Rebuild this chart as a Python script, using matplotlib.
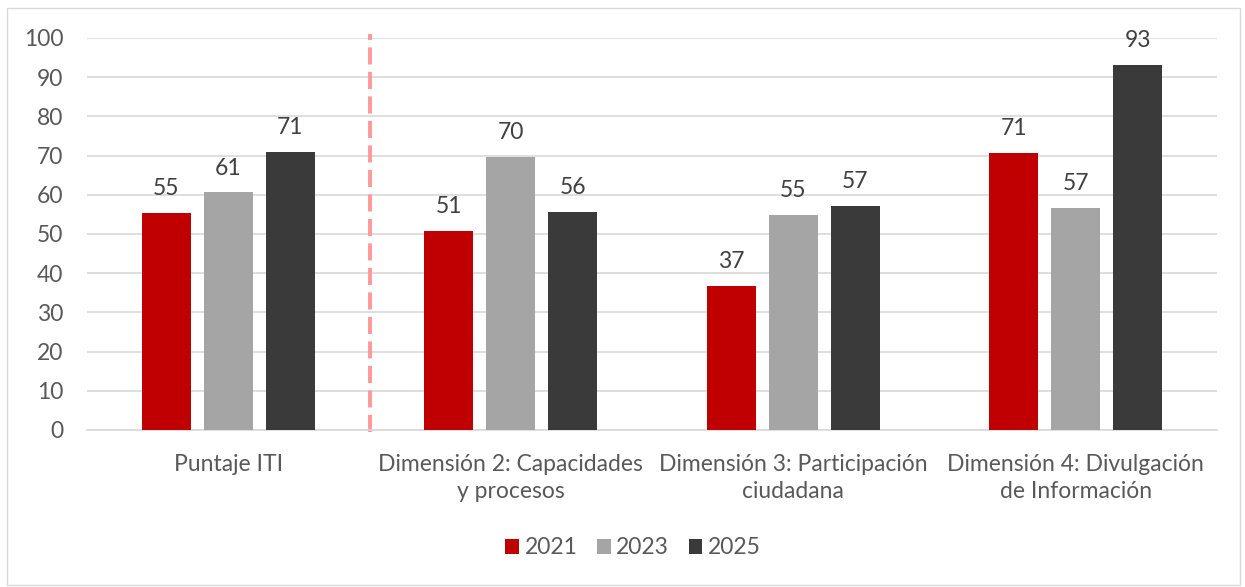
import matplotlib.pyplot as plt
import numpy as np
from matplotlib.patches import Rectangle

# Datos
categorias = ['Puntaje ITI', 'Dimensión 2: Capacidades\ny procesos',
              'Dimensión 3: Participación\nciudadana', 'Dimensión 4: Divulgación\nde Información']
anios = ['2021', '2023', '2025']
v2021 = [55.3, 50.8, 36.8, 70.7]
v2023 = [60.6, 69.6, 54.9, 56.6]
v2025 = [70.9, 55.6, 57.1, 93.1]
etiquetas2021 = [55, 51, 37, 71]
etiquetas2023 = [61, 70, 55, 57]
etiquetas2025 = [71, 56, 57, 93]

colores = ['#c00000', '#a5a5a5', '#3a3a3a']
texto = '#595959'
fs = 16.5

plt.rcParams['font.family'] = ['Lato', 'DejaVu Sans']

fig = plt.figure(figsize=(12.45, 5.87), dpi=100)
ax = fig.add_axes([0.0699, 0.2675, 0.9076, 0.6678])

# borde del gráfico
fig.patches.append(Rectangle((7/1245, 2/587), 1233/1245, 577/587, transform=fig.transFigure,
                             fill=False, edgecolor='#d9d9d9', linewidth=1))

x = np.arange(len(categorias))
ancho = 0.174
paso = 0.22
series = [(v2021, etiquetas2021), (v2023, etiquetas2023), (v2025, etiquetas2025)]
for i, (vals, etq) in enumerate(series):
    pos = x + (i - 1) * paso
    ax.bar(pos, vals, width=ancho, color=colores[i], label=anios[i], zorder=3)
    for xp, v, e in zip(pos, vals, etq):
        ax.annotate(str(e), (xp, v), xytext=(0, 10), textcoords='offset points',
                    ha='center', va='bottom', fontsize=fs, color='#404040',
                    annotation_clip=False)

# línea divisoria entre el puntaje total y las dimensiones
ax.axvline(0.5, ymin=-0.005, ymax=1.01, color='#ff9999', linestyle=(0, (4.4, 1.9)),
           linewidth=2.8, zorder=2, clip_on=False)

ax.set_xlim(-0.5, 3.5)
ax.set_ylim(0, 100)
ax.set_yticks(range(0, 101, 10))
ax.yaxis.grid(True, color='#d9d9d9', linewidth=1.2, zorder=0)
ax.set_axisbelow(True)
for s in ['top', 'right', 'left']:
    ax.spines[s].set_visible(False)
ax.spines['bottom'].set_color('#d9d9d9')
ax.spines['bottom'].set_linewidth(1.2)
ax.tick_params(axis='both', length=0, labelsize=fs, labelcolor=texto)
ax.tick_params(axis='y', pad=17)
ax.set_xticks(x)
ax.set_xticklabels(categorias, linespacing=1.35)
ax.tick_params(axis='x', pad=17)

fig.legend(*ax.get_legend_handles_labels(), loc='center', bbox_to_anchor=(633/1245, 1 - 548/587),
           ncol=3, frameon=False, fontsize=fs, labelcolor=texto, handlelength=0.6,
           handleheight=0.6, handletextpad=0.25, columnspacing=0.85)

fig.savefig('out.png', dpi=100)
